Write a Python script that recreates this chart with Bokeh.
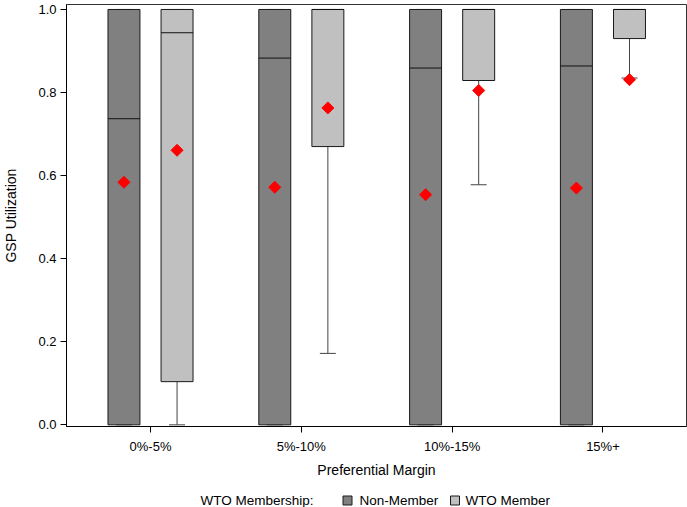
import numpy as np
from bokeh.plotting import figure
from bokeh.models import ColumnDataSource, Range1d, FixedTicker
from bokeh.layouts import column
from bokeh.core.properties import value
from bokeh.embed import file_html
from bokeh.resources import INLINE

categories = ["0%-5%", "5%-10%", "10%-15%", "15%+"]
groups = ["Non-Member", "WTO Member"]

non_low = [0.0, 0.0, 0.0, 0.0]
non_q1 = [0.0, 0.0, 0.0, 0.0]
non_median = [0.737, 0.883, 0.859, 0.864]
non_q3 = [1.0, 1.0, 1.0, 1.0]
non_high = [1.0, 1.0, 1.0, 1.0]
non_mean = [0.584, 0.572, 0.554, 0.570]

wto_low = [0.0, 0.172, 0.578, 0.835]
wto_q1 = [0.104, 0.670, 0.829, 0.930]
wto_median = [0.944, 1.0, 1.0, 1.0]
wto_q3 = [1.0, 1.0, 1.0, 1.0]
wto_high = [1.0, 1.0, 1.0, 1.0]
wto_mean = [0.661, 0.763, 0.805, 0.831]

y_ticks = [0.0, 0.2, 0.4, 0.6, 0.8, 1.0]

FONT = "Liberation Sans"
colors = {"Non-Member": "#808080", "WTO Member": "#C0C0C0"}
offsets = {"Non-Member": -0.176, "WTO Member": 0.176}
box_w = 0.212
cap_w = 0.106

p = figure(width=687, height=480, output_backend="svg", toolbar_location=None,
           x_range=Range1d(-0.557, 3.554), y_range=Range1d(-0.004, 1.012),
           min_border_left=66, min_border_right=1, min_border_top=4, min_border_bottom=54)
p.background_fill_color = "white"
p.border_fill_color = "white"
p.xgrid.grid_line_color = None
p.ygrid.grid_line_color = None
p.outline_line_color = "#333333"
p.outline_line_width = 1

series = {
    "Non-Member": (non_low, non_q1, non_median, non_q3, non_high, non_mean),
    "WTO Member": (wto_low, wto_q1, wto_median, wto_q3, wto_high, wto_mean),
}

for g in groups:
    low, q1, med, q3, high, mean = series[g]
    xs = np.arange(len(categories)) + offsets[g]
    src = ColumnDataSource(dict(x=xs, left=xs - box_w / 2, right=xs + box_w / 2,
                                capl=xs - cap_w / 2, capr=xs + cap_w / 2,
                                low=low, q1=q1, med=med, q3=q3, high=high, mean=mean))
    p.segment(x0="x", y0="low", x1="x", y1="q1", source=src, line_color="#444444", line_width=1)
    p.segment(x0="x", y0="q3", x1="x", y1="high", source=src, line_color="#444444", line_width=1)
    p.segment(x0="capl", y0="low", x1="capr", y1="low", source=src, line_color="#444444", line_width=1)
    p.segment(x0="capl", y0="high", x1="capr", y1="high", source=src, line_color="#444444", line_width=1)
    p.quad(left="left", right="right", bottom="q1", top="q3", source=src,
           fill_color=colors[g], line_color="#1a1a1a", line_width=1)
    p.segment(x0="left", y0="med", x1="right", y1="med", source=src, line_color="#111111", line_width=1)

for g in groups:
    low, q1, med, q3, high, mean = series[g]
    xs = np.arange(len(categories)) + offsets[g]
    p.scatter(x=xs, y=mean, marker="square", angle=np.pi / 4, size=8.5,
              fill_color="#FF0000", line_color="#FF0000")

p.xaxis.ticker = FixedTicker(ticks=list(range(len(categories))))
p.xaxis.major_label_overrides = {i: c for i, c in enumerate(categories)}
p.xaxis.minor_tick_line_color = None
p.yaxis.ticker = FixedTicker(ticks=y_ticks)
p.yaxis.major_label_overrides = {t: f"{t:.1f}" for t in y_ticks}
p.yaxis.minor_tick_line_color = None
for ax in (p.xaxis, p.yaxis):
    ax.major_tick_in = 0
    ax.major_tick_out = 6
    ax.axis_line_color = "#000000"
    ax.major_tick_line_color = "#000000"
    ax.major_label_text_font = FONT
    ax.major_label_text_font_size = "13px"
    ax.major_label_text_color = "#000000"
    ax.axis_label_text_font = FONT
    ax.axis_label_text_font_size = "14px"
    ax.axis_label_text_font_style = "normal"
    ax.axis_label_text_color = "#000000"
p.xaxis.axis_label = "Preferential Margin"
p.yaxis.axis_label = "GSP Utilization"
p.xaxis.major_label_standoff = 6
p.xaxis.axis_label_standoff = 5
p.yaxis.major_label_standoff = 4
p.yaxis.axis_label_standoff = 16

# legend strip (frame is aligned with the main plot frame: pixels 66..686)
leg = figure(width=687, height=27, output_backend="svg", toolbar_location=None,
             x_range=Range1d(66, 686), y_range=Range1d(0, 27),
             min_border=0, min_border_left=66, min_border_right=1,
             min_border_top=0, min_border_bottom=0)
leg.axis.visible = False
leg.xgrid.grid_line_color = None
leg.ygrid.grid_line_color = None
leg.outline_line_color = None
leg.background_fill_color = "white"
leg.border_fill_color = "white"

legend_title = "WTO Membership:"
leg.text(x=[200], y=[7], text=[legend_title], text_font=value(FONT), text_font_size="13.5px",
         text_baseline="middle", text_align="left", text_color="#000000")
sq_x = [347, 454.5]
leg.rect(x=sq_x, y=[7, 7], width=9, height=9, fill_color=[colors[g] for g in groups],
         line_color="#1a1a1a", line_width=1)
leg.text(x=[359, 465], y=[7, 7], text=groups, text_font=value(FONT), text_font_size="13.5px",
         text_baseline="middle", text_align="left", text_color="#000000")

layout = column(p, leg, spacing=0)
open("out.html", "w").write(file_html(layout, INLINE))
